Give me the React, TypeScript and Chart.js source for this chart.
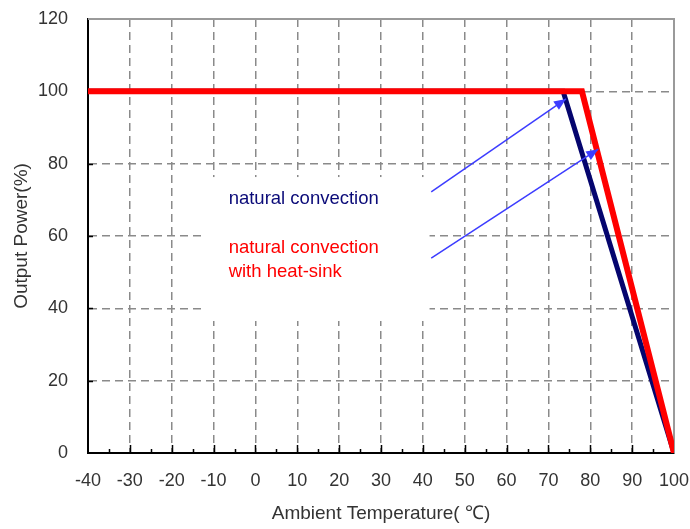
import React, { useEffect, useRef } from "react";
import { Chart, registerables } from "chart.js";

Chart.register(...registerables);

// ---- data ----
const naturalTemp = [-40, 73.5, 100];
const naturalPower = [100, 100, 0];
const heatsinkTemp = [-40, 78, 100];
const heatsinkPower = [100, 100, 0];
const arrow1Temp = [42, 74.2];
const arrow1Power = [72.2, 97.9];
const arrow2Temp = [42, 81.9];
const arrow2Power = [53.9, 84.0];

const xMin = -40;
const xMax = 100;
const xStep = 10;
const yMin = 0;
const yMax = 120;
const yStep = 20;

const xTitle = "Ambient Temperature( ℃)";
const yTitle = "Output Power(%)";

// annotation area (data units)
const labelBoxTemp = [-12, 41.6];
const labelBoxPower = [36.5, 76.3];
const labelTexts = ["natural convection", "natural convection", "with heat-sink"];
const labelColors = ["#0a0a78", "#ff0000", "#ff0000"];
const labelTemp = [-6.4, -6.4, -6.4];
const labelPower = [70.2, 56.7, 50.0];

const FONT = "Arial, 'Liberation Sans', sans-serif";

const toPts = (xs: number[], ys: number[]) => xs.map((x, i) => ({ x, y: ys[i] }));

const decorPlugin = {
  id: "decor",
  beforeDatasetsDraw(chart: any) {
    const { ctx, chartArea: a, scales } = chart;
    const x = scales.x;
    const y = scales.y;
    ctx.save();
    // white box behind the labels
    const l = x.getPixelForValue(labelBoxTemp[0]);
    const r = x.getPixelForValue(labelBoxTemp[1]);
    const t = y.getPixelForValue(labelBoxPower[1]);
    const b = y.getPixelForValue(labelBoxPower[0]);
    ctx.fillStyle = "#ffffff";
    ctx.fillRect(l, t, r - l, b - t);
    // top / right frame
    ctx.strokeStyle = "#9a9a9a";
    ctx.lineWidth = 2;
    ctx.beginPath();
    ctx.moveTo(a.left, a.top);
    ctx.lineTo(a.right, a.top);
    ctx.lineTo(a.right, a.bottom);
    ctx.stroke();
    // inner tick marks
    ctx.strokeStyle = "#000";
    ctx.lineWidth = 1.5;
    ctx.beginPath();
    for (let v = xMin + xStep / 2; v < xMax; v += xStep / 2) {
      const px = Math.round(x.getPixelForValue(v)) + 0.5;
      const len = Math.abs(v % xStep) < 1e-6 ? 8 : 4;
      ctx.moveTo(px, a.bottom);
      ctx.lineTo(px, a.bottom - len);
    }
    for (let v = yMin + yStep; v < yMax; v += yStep) {
      const py = Math.round(y.getPixelForValue(v)) + 0.5;
      ctx.moveTo(a.left, py);
      ctx.lineTo(a.left + 5, py);
    }
    ctx.stroke();
    // labels
    ctx.font = `18.5px ${FONT}`;
    ctx.textAlign = "left";
    ctx.textBaseline = "middle";
    labelTexts.forEach((txt, i) => {
      ctx.fillStyle = labelColors[i];
      ctx.fillText(txt, x.getPixelForValue(labelTemp[i]), y.getPixelForValue(labelPower[i]));
    });
    ctx.restore();
  },
  afterDatasetsDraw(chart: any) {
    const { ctx } = chart;
    ctx.save();
    chart.data.datasets.forEach((ds: any, i: number) => {
      if (!ds.isArrow) return;
      const pts = chart.getDatasetMeta(i).data;
      const p0 = pts[pts.length - 2];
      const p1 = pts[pts.length - 1];
      const ang = Math.atan2(p1.y - p0.y, p1.x - p0.x);
      const len = 12;
      const hw = 5;
      ctx.fillStyle = ds.borderColor;
      ctx.beginPath();
      ctx.moveTo(p1.x, p1.y);
      ctx.lineTo(
        p1.x - len * Math.cos(ang) + hw * Math.sin(ang),
        p1.y - len * Math.sin(ang) - hw * Math.cos(ang)
      );
      ctx.lineTo(
        p1.x - len * Math.cos(ang) - hw * Math.sin(ang),
        p1.y - len * Math.sin(ang) + hw * Math.cos(ang)
      );
      ctx.closePath();
      ctx.fill();
    });
    ctx.restore();
  },
};

export default function App() {
  const ref = useRef<HTMLCanvasElement | null>(null);

  useEffect(() => {
    document.body.style.margin = "0";
    if (!ref.current) return;
    Chart.defaults.font.family = FONT;
    const chart = new Chart(ref.current, {
      type: "line",
      data: {
        datasets: [
          {
            label: "arrow1",
            data: toPts(arrow1Temp, arrow1Power),
            borderColor: "#3c3cff",
            borderWidth: 1.5,
            pointRadius: 0,
            isArrow: true,
          } as any,
          {
            label: "arrow2",
            data: toPts(arrow2Temp, arrow2Power),
            borderColor: "#3c3cff",
            borderWidth: 1.5,
            pointRadius: 0,
            isArrow: true,
          } as any,
          {
            label: "natural convection with heat-sink",
            data: toPts(heatsinkTemp, heatsinkPower),
            borderColor: "#ff0000",
            borderWidth: 6,
            pointRadius: 0,
            borderJoinStyle: "miter",
          },
          {
            label: "natural convection",
            data: toPts(naturalTemp, naturalPower),
            borderColor: "#05056e",
            borderWidth: 5,
            pointRadius: 0,
          },
        ],
      },
      options: {
        responsive: false,
        animation: false,
        devicePixelRatio: 1,
        layout: { padding: { left: 0, top: 19, right: 16, bottom: 0 } },
        plugins: {
          legend: { display: false },
          tooltip: { enabled: false },
        },
        scales: {
          x: {
            type: "linear",
            min: xMin,
            max: xMax,
            afterFit: (s: any) => {
              s.height = 76;
              s.paddingLeft = 0;
              s.paddingRight = 0;
            },
            ticks: {
              stepSize: xStep,
              color: "#333",
              font: { size: 18, family: FONT },
              padding: 17,
              maxRotation: 0,
            },
            grid: {
              color: "#8a8a8a",
              lineWidth: 1.5,
              drawTicks: false,
            },
            border: { display: true, color: "#000", width: 2, dash: [8, 5] },
            title: {
              display: true,
              text: xTitle,
              color: "#333",
              font: { size: 19, family: FONT },
              padding: { top: 0, bottom: 4 },
            },
          },
          y: {
            type: "linear",
            min: yMin,
            max: yMax,
            afterFit: (s: any) => {
              s.width = 88;
              s.paddingTop = 0;
              s.paddingBottom = 0;
            },
            ticks: {
              stepSize: yStep,
              color: "#333",
              font: { size: 18, family: FONT },
              padding: 20,
            },
            grid: {
              color: "#8a8a8a",
              lineWidth: 1.5,
              drawTicks: false,
            },
            border: { display: true, color: "#000", width: 2, dash: [8, 5] },
            title: {
              display: true,
              text: yTitle,
              color: "#333",
              font: { size: 19, family: FONT },
              padding: { top: 10, bottom: 0 },
            },
          },
        },
      } as any,
      plugins: [decorPlugin],
    });
    return () => chart.destroy();
  }, []);

  return (
    <div style={{ position: "fixed", left: 0, top: 0, width: 690, height: 529, background: "#fff" }}>
      <canvas ref={ref} width={690} height={529} style={{ width: 690, height: 529, display: "block" }} />
    </div>
  );
}
